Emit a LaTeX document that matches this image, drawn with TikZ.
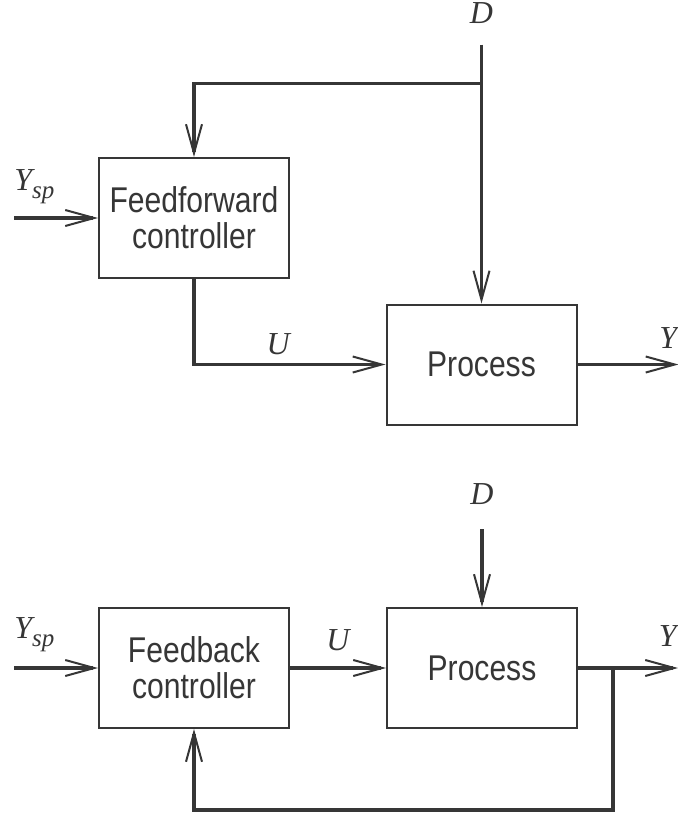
\RequirePackage{fix-cm}
\documentclass[tikz,border=0pt]{standalone}
\usepackage{fontspec}
\newfontfamily\blockfont{Liberation Sans}[FakeStretch=0.84]
\newfontfamily\signalfont{Liberation Serif}
\usetikzlibrary{positioning, arrows.meta}
\definecolor{ink}{HTML}{363636}
\newcommand{\setpoint}{Y\raisebox{-4pt}{\fontsize{12.5}{12.5}\selectfont sp}}

\begin{document}
\begin{tikzpicture}[x=0.5pt, y=-0.5pt, on grid, ink,
   block/.style={draw, line width=1pt, minimum width=95pt, minimum height=60pt,
      align=center, font=\fontsize{17.9}{18}\blockfont},
   signal/.style={line width=1.8pt, -{Straight Barb[length=14.5pt, width=8pt, line width=1pt]}},
   lbl/.style={font=\fontsize{16}{18}\signalfont\itshape, inner sep=0pt}]
   \useasboundingbox (0,0) rectangle (678,814);

   % Feedforward control
   \node[block] (ffc) at (194,218) {Feedforward\\controller};
   \node[block] (proc1) [below right=73.25pt and 143.75pt of ffc] {Process};

   \coordinate[left=42pt of ffc.west] (in1);
   \coordinate[right=50.5pt of proc1.east] (out1);
   \coordinate[above=129.5pt of proc1.north] (dtop1);
   \coordinate[above=110pt of proc1.north] (br1);

   \node[lbl, above=10.5pt of dtop1] (d1) {D};
   \node[lbl, anchor=south west] (ysp1) at ([yshift=7pt]in1) {\setpoint};
   \node[lbl, anchor=south east] (y1) at ([xshift=-0.5pt, yshift=8pt]out1) {Y};

   \draw[signal] (in1) -- (ffc.west);
   \draw[signal] (dtop1) -- (proc1.north);
   \draw[signal] (br1) -| (ffc.north);
   \draw[signal] (ffc.south) |- node[lbl, pos=0.72, above=4pt] (u1) {U} (proc1.west);
   \draw[signal] (proc1.east) -- (out1);

   % Feedback control
   \node[block] (fbc) [below=225pt of ffc] {Feedback\\controller};
   \node[block] (proc2) [right=144pt of fbc] {Process};

   \coordinate[left=42pt of fbc.west] (in2);
   \coordinate[right=50pt of proc2.east] (out2);
   \coordinate[right=17.5pt of proc2.east] (tap);
   \coordinate[below=71pt of tap] (fbk);
   \coordinate[above=39pt of proc2.north] (dtop2);

   \node[lbl, above=12pt of dtop2] (d2) {D};
   \node[lbl, anchor=south west] (ysp2) at ([yshift=8pt]in2) {\setpoint};
   \node[lbl, anchor=south east] (y2) at ([xshift=-0.5pt, yshift=10.5pt]out2) {Y};

   \draw[signal] (in2) -- (fbc.west);
   \draw[signal] (dtop2) -- (proc2.north);
   \draw[signal] (fbc.east) -- node[lbl, above=7.5pt] (u2) {U} (proc2.west);
   \draw[signal] (proc2.east) -- (out2);
   \draw[signal] (tap) -- (fbk) -| (fbc.south);

\end{tikzpicture}
\end{document}
